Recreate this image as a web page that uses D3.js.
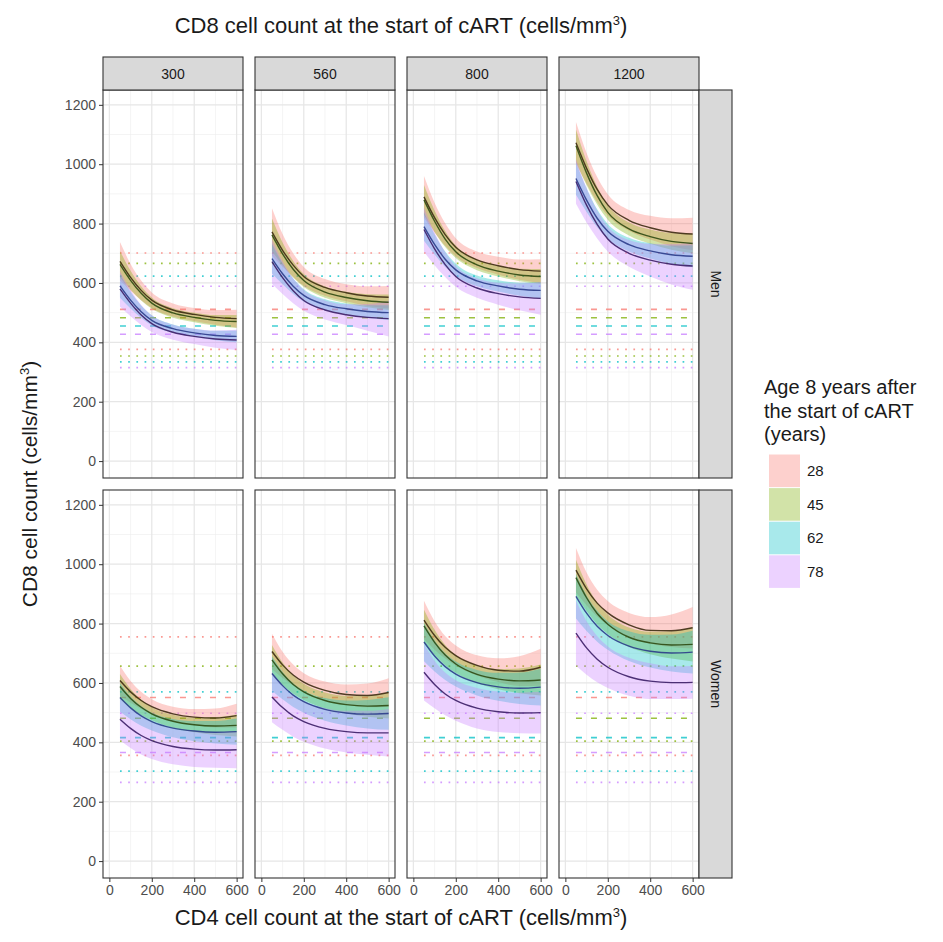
<!DOCTYPE html>
<html><head><meta charset="utf-8">
<script src="https://cdn.jsdelivr.net/npm/d3@7/dist/d3.min.js"></script>
<style>body{margin:0;background:#fff} text{font-family:"Liberation Sans",Arial,Helvetica,sans-serif}</style>
</head><body><svg id="chart" width="943" height="942"></svg>
<script>
// ---------------- data ----------------
const cd4Values = [50, 100, 150, 200, 300, 400, 500, 600];
const ageLevels = ["28", "45", "62", "78"];
const cd8Levels = ["300", "560", "800", "1200"];
const sexLevels = ["Men", "Women"];
const xTicks = [0, 200, 400, 600];
const yTicks = [0, 200, 400, 600, 800, 1000, 1200];

// fitted CD8 counts (rows: age 28, 45, 62, 78)
const menFit300 = [[673,619,575,542,509,494,484,480],[663,609,565,532,499,484,474,470],[590,542,503,474,446,432,423,420],[580,532,492,463,434,420,411,408]];
const menFit560 = [[772,710,660,622,585,567,556,552],[762,698,646,608,569,551,540,535],[682,631,589,558,527,513,504,500],[672,618,574,541,509,493,484,480]];
const menFit800 = [[890,820,763,720,678,658,645,640],[880,808,748,705,661,640,627,622],[790,730,680,644,607,590,579,575],[780,715,662,622,583,564,553,548]];
const menFit1200 = [[1072,986,915,863,811,786,771,765],[1062,970,894,838,782,756,740,733],[952,879,818,774,729,708,695,690],[942,862,797,748,700,677,663,657]];
const womenFit300 = [[608,570,541,520,496,485,482,490],[588,548,518,496,471,459,455,457],[551,516,489,470,448,438,434,436],[478,447,423,406,386,377,374,375]];
const womenFit560 = [[706,661,627,603,575,561,558,568],[678,631,595,570,541,527,522,524],[632,591,559,537,511,499,495,497],[553,517,489,470,447,436,432,432]];
const womenFit800 = [[812,760,720,692,659,643,640,653],[792,737,694,664,629,613,607,610],[738,691,655,630,601,587,582,586],[636,595,563,541,515,503,499,500]];
const womenFit1200 = [[980,917,869,836,796,777,776,786],[955,887,834,798,754,735,728,730],[892,835,791,760,724,707,701,704],[768,718,680,653,621,606,601,602]];

// half-width of the confidence bands (rows: age 28, 45, 62, 78)
const menBand300 = [[65,45,33,26,22,22,25,30],[45,32,24,19,16,16,18,22],[40,28,21,17,14,14,16,20],[60,44,34,28,25,26,29,34]];
const menBand560 = [[80,55,40,32,28,29,33,38],[55,38,28,22,19,19,22,26],[50,35,26,21,18,18,21,25],[75,55,42,35,32,35,45,60]];
const menBand800 = [[70,50,38,31,28,30,34,40],[50,36,27,21,18,18,21,25],[48,34,26,21,18,19,22,27],[75,55,42,35,33,37,45,55]];
const menBand1200 = [[70,52,42,36,35,40,47,55],[55,40,30,25,22,24,28,33],[55,40,30,25,23,26,31,37],[75,58,47,42,45,55,68,80]];
const womenBand300 = [[50,37,29,25,24,27,32,40],[42,32,26,22,22,25,30,37],[48,38,33,30,31,34,38,44],[70,66,64,62,60,60,60,62]];
const womenBand560 = [[60,44,35,30,30,34,40,48],[50,38,31,27,27,30,36,44],[58,46,40,37,38,42,48,55],[85,75,70,68,68,70,74,80]];
const womenBand800 = [[65,48,38,34,34,40,50,62],[55,42,34,30,30,34,42,52],[65,52,45,42,43,47,53,62],[95,80,72,68,68,68,68,70]];
const womenBand1200 = [[75,55,45,40,40,45,55,70],[60,45,37,33,33,38,46,58],[75,60,52,48,50,55,62,72],[110,90,78,70,64,60,55,55]];

// reference population (by age 28, 45, 62, 78)
const menRefQ3 = [701, 666, 623, 589];
const menRefMedian = [511, 483, 455, 427];
const menRefQ1 = [376, 354, 334, 315];
const womenRefQ3 = [755, 657, 570, 498];
const womenRefMedian = [551, 481, 416, 366];
const womenRefQ1 = [356, 404, 303, 265];

// ---------------- drawing ----------------
const fitData = {Men: [menFit300, menFit560, menFit800, menFit1200], Women: [womenFit300, womenFit560, womenFit800, womenFit1200]};
const bandData = {Men: [menBand300, menBand560, menBand800, menBand1200], Women: [womenBand300, womenBand560, womenBand800, womenBand1200]};
const refData = {
  Men: [[menRefQ3, "dot"], [menRefMedian, "dash"], [menRefQ1, "dot"]],
  Women: [[womenRefQ3, "dot"], [womenRefMedian, "dash"], [womenRefQ1, "dot"]]
};

const hue = ["#F8766D", "#7CAE00", "#00BFC4", "#C77CFF"];
const lineCol = ["#3d2b12", "#2e4a12", "#2b3c8a", "#3b1d66"];
const FONT = '"Liberation Sans",Arial,Helvetica,sans-serif';

const svg = d3.select("#chart");
svg.append("rect").attr("width", 943).attr("height", 942).attr("fill", "#fff");

const panelLeft = 103, panelW = 140, panelStep = 152;
const rowTop = [90, 490], panelH = 388, stripH = 33, stripW = 33;
const yDomain = [-57, 1250], xDomain = [-30, 630];

sexLevels.forEach((sex, r) => {
  const top = rowTop[r], bottom = top + panelH;
  const y = d3.scaleLinear().domain(yDomain).range([bottom, top]);
  cd8Levels.forEach((cd8, c) => {
    const x0 = panelLeft + c * panelStep;
    const x = d3.scaleLinear().domain(xDomain).range([x0, x0 + panelW]);
    const g = svg.append("g");
    const clipId = `clip-${r}-${c}`;
    svg.append("clipPath").attr("id", clipId).append("rect")
      .attr("x", x0).attr("y", top).attr("width", panelW).attr("height", panelH);
    g.attr("clip-path", `url(#${clipId})`);
    g.append("rect").attr("x", x0).attr("y", top).attr("width", panelW).attr("height", panelH).attr("fill", "#fff");

    // grid (minor then major)
    const minorX = [100, 300, 500];
    const minorY = d3.range(100, 1200, 200);
    g.selectAll(null).data(minorX).enter().append("line")
      .attr("x1", d => x(d)).attr("x2", d => x(d)).attr("y1", top).attr("y2", bottom)
      .attr("stroke", "#ececec").attr("stroke-width", 0.6);
    g.selectAll(null).data(minorY).enter().append("line")
      .attr("x1", x0).attr("x2", x0 + panelW).attr("y1", d => y(d)).attr("y2", d => y(d))
      .attr("stroke", "#ececec").attr("stroke-width", 0.6);
    g.selectAll(null).data(xTicks).enter().append("line")
      .attr("x1", d => x(d)).attr("x2", d => x(d)).attr("y1", top).attr("y2", bottom)
      .attr("stroke", "#e6e6e6").attr("stroke-width", 1.2);
    g.selectAll(null).data(yTicks).enter().append("line")
      .attr("x1", x0).attr("x2", x0 + panelW).attr("y1", d => y(d)).attr("y2", d => y(d))
      .attr("stroke", "#e6e6e6").attr("stroke-width", 1.2);

    // reference lines
    refData[sex].forEach(([vals, kind]) => {
      ageLevels.forEach((a, i) => {
        g.append("line")
          .attr("x1", x(cd4Values[0])).attr("x2", x(cd4Values[cd4Values.length - 1]))
          .attr("y1", y(vals[i])).attr("y2", y(vals[i]))
          .attr("stroke", hue[i]).attr("stroke-opacity", 0.75)
          .attr("stroke-width", kind === "dash" ? 1.6 : 1.7)
          .attr("stroke-dasharray", kind === "dash" ? "6,9" : "1.7,6.5");
      });
    });

    const fits = fitData[sex][c], bands = bandData[sex][c];
    // ribbons
    ageLevels.forEach((a, i) => {
      const pts = cd4Values.map((v, j) => ({x: v, lo: fits[i][j] - bands[i][j], hi: fits[i][j] + bands[i][j]}));
      const area = d3.area().x(d => x(d.x)).y0(d => y(d.lo)).y1(d => y(d.hi)).curve(d3.curveMonotoneX);
      g.append("path").attr("d", area(pts)).attr("fill", hue[i]).attr("fill-opacity", 0.34);
    });
    // fitted lines
    ageLevels.forEach((a, i) => {
      const pts = cd4Values.map((v, j) => ({x: v, f: fits[i][j]}));
      const line = d3.line().x(d => x(d.x)).y(d => y(d.f)).curve(d3.curveMonotoneX);
      g.append("path").attr("d", line(pts)).attr("fill", "none")
        .attr("stroke", lineCol[i]).attr("stroke-width", 1.4).attr("stroke-opacity", 0.9);
    });

    // panel border
    svg.append("rect").attr("x", x0).attr("y", top).attr("width", panelW).attr("height", panelH)
      .attr("fill", "none").attr("stroke", "#333").attr("stroke-width", 1.1);

    // top strips
    if (r === 0) {
      svg.append("rect").attr("x", x0).attr("y", top - stripH).attr("width", panelW).attr("height", stripH)
        .attr("fill", "#d9d9d9").attr("stroke", "#333").attr("stroke-width", 1.1);
      svg.append("text").attr("x", x0 + panelW / 2).attr("y", top - stripH / 2 + 5)
        .attr("text-anchor", "middle").attr("font-size", 14).attr("fill", "#1a1a1a").text(cd8);
    }
    // right strips
    if (c === cd8Levels.length - 1) {
      const sx = x0 + panelW;
      svg.append("rect").attr("x", sx).attr("y", top).attr("width", stripW).attr("height", panelH)
        .attr("fill", "#d9d9d9").attr("stroke", "#333").attr("stroke-width", 1.1);
      svg.append("text").attr("transform", `translate(${sx + stripW / 2 - 5},${top + panelH / 2}) rotate(90)`)
        .attr("text-anchor", "middle").attr("font-size", 14).attr("fill", "#1a1a1a").text(sex);
    }
    // bottom axis
    if (r === sexLevels.length - 1) {
      const ax = svg.append("g").attr("transform", `translate(0,${bottom})`)
        .call(d3.axisBottom(x).tickValues(xTicks).tickFormat(d3.format("d")).tickSize(4).tickPadding(3));
      ax.select(".domain").remove();
      ax.selectAll("line").attr("stroke", "#333");
      ax.selectAll("text").attr("fill", "#4d4d4d").style("font-size", "14px").style("font-family", FONT);
    }
  });
  // left axis
  const ay = svg.append("g").attr("transform", `translate(${panelLeft},0)`)
    .call(d3.axisLeft(y).tickValues(yTicks).tickFormat(d3.format("d")).tickSize(4).tickPadding(3));
  ay.select(".domain").remove();
  ay.selectAll("line").attr("stroke", "#333");
  ay.selectAll("text").attr("fill", "#4d4d4d").style("font-size", "14px").style("font-family", FONT);
});

// titles
function supTitle(sel, main) {
  sel.append("tspan").text(main);
  sel.append("tspan").attr("dy", -8).attr("font-size", 13).text("3");
  sel.append("tspan").attr("dy", 8).text(")");
}
const plotMid = panelLeft + (3 * panelStep + panelW) / 2;
supTitle(svg.append("text").attr("x", plotMid).attr("y", 33).attr("text-anchor", "middle")
  .attr("font-size", 22).attr("fill", "#1a1a1a"), "CD8 cell count at the start of cART (cells/mm");
supTitle(svg.append("text").attr("x", plotMid).attr("y", 925).attr("text-anchor", "middle")
  .attr("font-size", 22).attr("fill", "#1a1a1a"), "CD4 cell count at the start of cART (cells/mm");
supTitle(svg.append("text").attr("transform", `translate(37,${(rowTop[0] + rowTop[1] + panelH) / 2}) rotate(-90)`)
  .attr("text-anchor", "middle").attr("font-size", 21).attr("fill", "#1a1a1a"), "CD8 cell count (cells/mm");

// legend
const legendTitle = ["Age 8 years after", "the start of cART", "(years)"];
const lg = svg.append("g");
legendTitle.forEach((t, i) => {
  lg.append("text").attr("x", 764).attr("y", 394 + i * 23.5).attr("font-size", 20).attr("fill", "#1a1a1a").text(t);
});
ageLevels.forEach((a, i) => {
  const ky = 454 + i * 33.6;
  lg.append("rect").attr("x", 769).attr("y", ky + 0.5).attr("width", 31).attr("height", 32.6)
    .attr("fill", hue[i]).attr("fill-opacity", 0.34);
  lg.append("text").attr("x", 807).attr("y", ky + 22).attr("font-size", 15).attr("fill", "#1a1a1a").text(a);
});
</script>
</body></html>
